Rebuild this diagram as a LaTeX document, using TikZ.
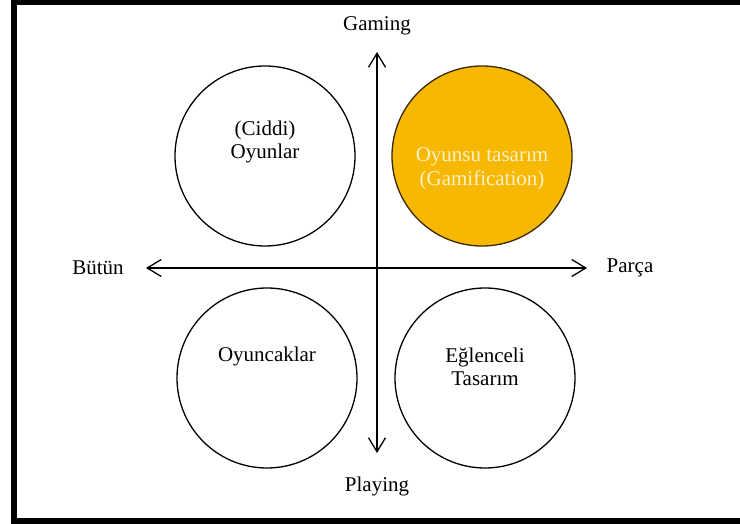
\documentclass[tikz,border=0pt]{standalone}
\usepackage{fontspec}
\setmainfont{Liberation Serif}
\usetikzlibrary{arrows.meta}
\definecolor{gold}{RGB}{246,184,0}
\definecolor{palegold}{RGB}{255,241,205}
\begin{document}
\begin{tikzpicture}[x=1pt,y=-1pt,
  quad/.style={circle,draw=black,line width=1.3pt,minimum size=180pt,inner sep=0pt},
  txt/.style={font=\fontsize{21}{23.5}\selectfont,align=center,inner sep=0pt},
  axis/.style={line width=1.3pt,{Straight Barb[length=14pt,width=17pt]}-{Straight Barb[length=14pt,width=17pt]}}
]
\useasboundingbox (0,0) rectangle (740,524);
% frame
\fill[black] (11,0) rectangle (17,524);
\fill[black] (11,0) rectangle (740,5);
\fill[black] (11,518) rectangle (740,524);

% quadrant circles
\node[quad] (serious) at (265,156) {};
\node[quad,fill=gold,draw={rgb,255:red,60;green,40;blue,0}] (gamif) at (482,156) {};
\node[quad] (toys) at (267,378) {};
\node[quad] (playful) at (485,378) {};

\node[txt] (seriousT) at (265,142) {(Ciddi)\\Oyunlar};
\node[txt,text=palegold] (gamifT) at (482,169) {Oyunsu tasarım\\(Gamification)};
\node[txt] (toysT) at (267,356) {Oyuncaklar};
\node[txt] (playfulT) at (485,367) {Eğlenceli\\Tasarım};

% axes
\coordinate (top) at (377,52);
\coordinate (bottom) at (377,453);
\coordinate (left) at (146,268);
\coordinate (right) at (587,268);
\draw[axis] (top) -- (bottom);
\draw[axis] (left) -- (right);

% axis labels
\node[txt] (gaming) at (377,26) {Gaming};
\node[txt] (playing) at (377,486) {Playing};
\node[txt] (whole) at (98,268) {Bütün};
\node[txt] (part) at (630,268) {Parça};
\end{tikzpicture}
\end{document}
